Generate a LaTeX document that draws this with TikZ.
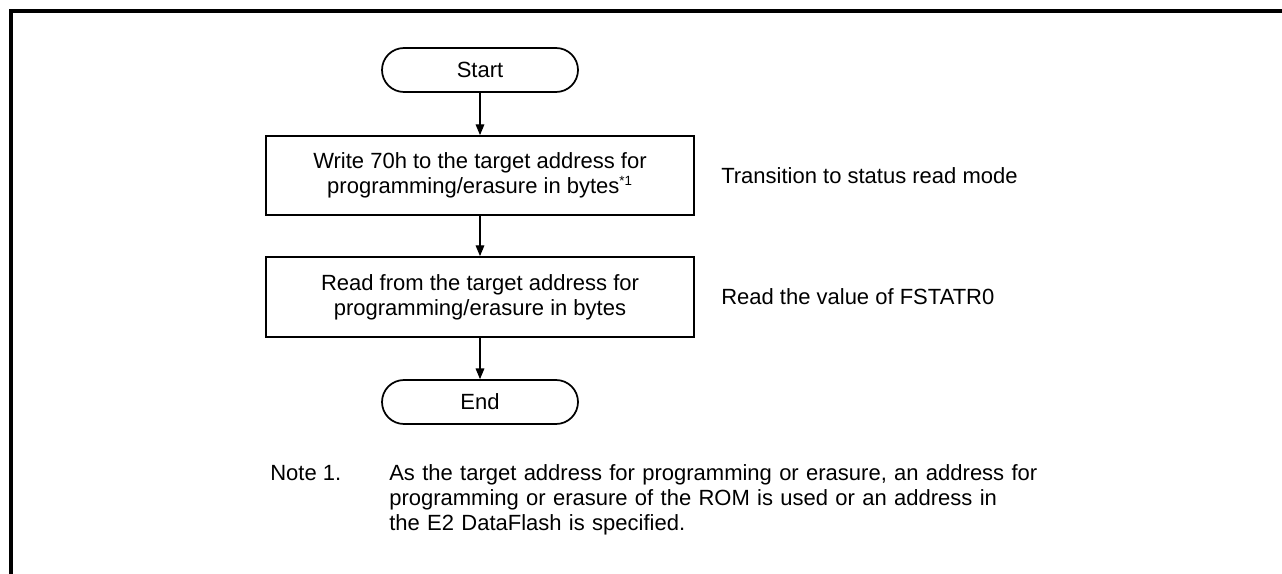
\documentclass[tikz,border=0pt]{standalone}
\usepackage{fontspec}
\setmainfont{Liberation Sans}
\usetikzlibrary{arrows.meta}

\begin{document}
\begin{tikzpicture}[x=0.75pt, y=-0.75pt,
        every node/.style={font=\fontsize{16.5}{18.75}\selectfont},
        terminal/.style={draw, line width=1.3pt, minimum width=147pt, minimum height=33pt, rounded corners=16.5pt, inner sep=0pt},
        procbox/.style={draw, line width=1.4pt, minimum width=321pt, align=center, inner sep=0pt},
        flowarrow/.style={line width=0.8pt, -{Triangle[length=8pt, width=6.5pt]}},
        sidenote/.style={anchor=west, inner sep=0pt}]
        \useasboundingbox (0,0) rectangle (1282,574);
        % frame, open at right and bottom
        \draw[line width=2.3pt] (11,574) -- (11,11) -- (1282,11);

        \node[terminal] (start) at (480,70) {Start};
        \node[procbox, minimum height=59.25pt] (write) at (480,175.5) {Write 70h to the target address for\\programming/erasure in bytes\textsuperscript{\fontsize{10}{10}\selectfont *1}};
        \node[procbox, minimum height=60pt] (read) at (480,297) {Read from the target address for\\programming/erasure in bytes};
        \node[terminal] (end) at (480,402) {End};

        \draw[flowarrow] (start) -- (write);
        \draw[flowarrow] (write) -- (read);
        \draw[flowarrow] (read) -- (end);

        \node[sidenote] (writenote) at (721,175.5) {Transition to status read mode};
        \node[sidenote] (readnote) at (721,297) {Read the value of FSTATR0};

        % note below the flow
        \node[anchor=base west, inner sep=0pt] (notelabel) at (270,480) {Note 1.};
        \node[anchor=base west, inner sep=0pt, text width=700pt, align=left] (notetext) at (389,480) {As the target address for programming or erasure, an address for\\programming or erasure of the ROM is used or an address in\\the E2 DataFlash is specified.};
\end{tikzpicture}
\end{document}
